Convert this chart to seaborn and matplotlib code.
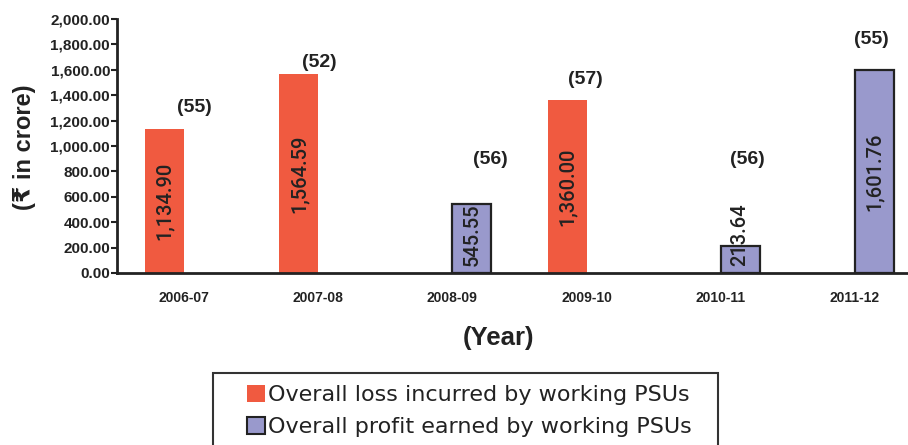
import pandas as pd
import matplotlib
matplotlib.use('Agg')
import matplotlib.pyplot as plt
import seaborn as sns
from matplotlib.patches import Patch, Rectangle

# Data
years = ['2006-07', '2007-08', '2008-09', '2009-10', '2010-11', '2011-12']
kind = ['loss', 'loss', 'profit', 'loss', 'profit', 'profit']
amount = [1134.90, 1564.59, 545.55, 1360.00, 213.64, 1601.76]
psu_count = ['(55)', '(52)', '(56)', '(57)', '(56)', '(55)']
series_names = ['Overall loss incurred by working PSUs',
                'Overall profit earned by working PSUs']

# placement of the "(nn)" labels (x offset from tick, y in data units)
count_dx = [0.08, 0.01, 0.28, -0.01, 0.20, 0.12]
count_y = [1307, 1661, 895, 1520, 895, 1835]

loss_color = '#F05A40'
profit_color = '#9999CC'

df = pd.DataFrame({'Year': years, 'Kind': kind, 'Amount': amount})

sns.set_style('white')
plt.rcParams['font.family'] = ['Liberation Sans', 'DejaVu Sans']

fig = plt.figure(figsize=(9.08, 4.45), dpi=100)
ax = fig.add_axes([117 / 908, 1 - 273 / 445, 805 / 908, 254 / 445])

sns.barplot(data=df, x='Year', y='Amount', hue='Kind', order=years,
            hue_order=['loss', 'profit'], palette=[loss_color, profit_color],
            width=0.58, dodge=True, saturation=1, legend=False, ax=ax)

for cont, kname in zip(ax.containers, ['loss', 'profit']):
    for bar in cont:
        if kname == 'loss':
            bar.set_edgecolor('none')
        else:
            bar.set_edgecolor('#222222')
            bar.set_linewidth(1.6)
        h = bar.get_height()
        if pd.isna(h) or h == 0:
            continue
        cx = bar.get_x() + bar.get_width() / 2
        ax.text(cx, max(h / 2, 305), f'{h:,.2f}', rotation=90,
                ha='center', va='center', fontsize=14.5, color='#222222',
                family='Roboto', fontweight='medium')

for i, lab in enumerate(psu_count):
    ax.text(i + count_dx[i], count_y[i], lab, ha='center', va='center',
            fontsize=14, fontweight='bold', color='#222222')

ax.set_xlim(-0.5, 5.5)
ax.set_ylim(0, 2000)
ax.set_yticks(range(0, 2001, 200))
ax.set_yticklabels([f'{v:,.2f}' for v in range(0, 2001, 200)])
ax.set_xlabel('')
ax.set_ylabel('')

for s in ['top', 'right']:
    ax.spines[s].set_visible(False)
for s in ['left', 'bottom']:
    ax.spines[s].set_color('#222222')
    ax.spines[s].set_linewidth(2)

ax.tick_params(axis='y', direction='out', length=4, width=1.5, pad=1,
               labelsize=11, colors='#222222', left=True)
ax.tick_params(axis='x', length=0, pad=13, labelsize=10, colors='#222222')
for t in ax.get_xticklabels() + ax.get_yticklabels():
    t.set_fontweight('bold')

fig.text(25 / 908, 1 - 147 / 445, '(\u20b9 in crore)', rotation=90,
         ha='center', va='center', fontsize=17, fontweight='bold',
         color='#222222')
fig.text(498 / 908, 1 - 338 / 445, '(Year)', ha='center', va='center',
         fontsize=18.5, fontweight='bold', color='#222222')

# legend box runs off the bottom of the picture
fig.patches.append(Rectangle((213 / 908, -0.05), 505 / 908,
                             1 - 373 / 445 + 0.05, transform=fig.transFigure,
                             facecolor='none', edgecolor='#333333',
                             linewidth=1.5))
handles = [Patch(facecolor=loss_color, edgecolor='none'),
           Patch(facecolor=profit_color, edgecolor='#222222', linewidth=1.5)]
leg = fig.legend(handles, series_names, loc='center left',
                 bbox_to_anchor=(247 / 908, 1 - 411 / 445),
                 prop={'family': 'DejaVu Sans', 'size': 16},
                 frameon=False, handlelength=0.8, handleheight=0.8,
                 handletextpad=0.15, borderpad=0, borderaxespad=0,
                 labelspacing=0.55)
for t in leg.get_texts():
    t.set_color('#222222')

fig.savefig('out.png', dpi=100)
